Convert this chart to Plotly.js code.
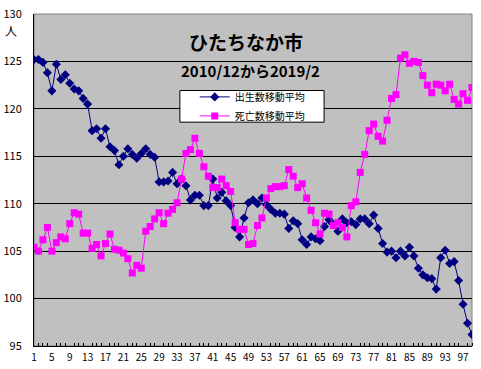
<!DOCTYPE html>
<html><head><meta charset="utf-8">
<script src="https://cdn.plot.ly/plotly-3.0.1.min.js"></script>
<style>html,body{margin:0;padding:0;background:#fff;}#chart{width:481px;height:369px;}</style>
</head><body><div id="chart"></div>
<script>
const months = [1,2,3,4,5,6,7,8,9,10,11,12,13,14,15,16,17,18,19,20,21,22,23,24,25,26,27,28,29,30,31,32,33,34,35,36,37,38,39,40,41,42,43,44,45,46,47,48,49,50,51,52,53,54,55,56,57,58,59,60,61,62,63,64,65,66,67,68,69,70,71,72,73,74,75,76,77,78,79,80,81,82,83,84,85,86,87,88,89,90,91,92,93,94,95,96,97,98,99];
const births = [125.2,125.2,124.9,123.8,121.9,124.7,123.1,123.6,122.7,122.1,121.9,121.1,120.5,
117.7,117.9,116.9,117.9,116.0,115.6,114.1,115.0,115.8,115.2,114.8,115.3,115.8,115.2,114.9,
112.3,112.3,112.4,113.3,112.1,
112.6,111.9,110.4,110.9,110.9,109.8,109.8,112.6,110.6,111.2,110.3,109.8,
107.5,106.5,108.5,110.1,110.4,110.0,110.6,109.9,109.4,109.0,109.0,108.9,
107.4,108.2,107.9,106.2,105.7,106.5,106.3,106.1,107.6,
108.3,107.8,107.1,108.4,108.0,108.1,107.8,108.4,108.4,107.9,108.8,107.4,
105.8,104.9,105.0,104.3,105.0,104.5,105.4,104.5,103.2,102.5,102.2,102.1,
101.0,104.3,105.1,103.7,103.9,101.9,99.4,97.4,96.2];
const deaths = [105.4,105.0,106.2,107.5,105.0,105.9,106.5,106.3,107.9,109.05,108.9,106.9,106.9,105.3,105.7,104.5,105.8,106.8,105.2,105.1,104.8,104.2,102.7,103.5,103.2,107.1,107.6,108.4,109.05,107.9,109.0,109.4,110.1,
112.6,115.3,115.7,116.9,115.3,113.9,112.9,111.7,111.7,112.6,111.9,111.3,
108.0,107.3,107.3,105.7,105.8,107.7,108.5,110.6,111.6,111.8,111.8,111.9,
113.6,112.9,111.7,112.1,110.6,109.3,108.0,106.8,109.0,
108.9,107.7,108.0,107.5,106.5,109.8,110.2,113.3,115.2,117.7,118.4,117.1,
116.6,118.8,121.1,121.5,125.35,125.7,124.8,125.0,124.9,123.5,122.5,121.7,
122.6,122.5,121.9,122.6,121.0,120.5,121.6,120.9,122.25];
const seriesNames = ['出生数移動平均','死亡数移動平均'];
const titleText = 'ひたちなか市';
const subtitleText = '2010/12から2019/2';
const unitText = '人';

const font = "'Noto Sans CJK JP', 'DejaVu Sans', sans-serif";
const traces = [
  {x: months, y: births, name: seriesNames[0], type:'scatter', mode:'lines+markers',
   line:{color:'#000080', width:1}, marker:{symbol:'diamond', size:7, color:'#000080'}},
  {x: months, y: deaths, name: seriesNames[1], type:'scatter', mode:'lines+markers',
   line:{color:'#FF00FF', width:1}, marker:{symbol:'square', size:7, color:'#FF00FF'}}
];
const layout = {
  width:481, height:369,
  margin:{l:34, r:9, t:14, b:23, pad:0},
  paper_bgcolor:'#ffffff', plot_bgcolor:'#C0C0C0',
  showlegend:true,
  legend:{x:0.367, y:0.794, xanchor:'left', yanchor:'top', bgcolor:'rgba(0,0,0,0)',
    borderwidth:0, font:{family:font, size:10, color:'#000'},
    itemwidth:30, tracegroupgap:0},
  xaxis:{range:[1,99], tickmode:'linear', tick0:1, dtick:4, showgrid:false, zeroline:false,
    showline:true, linecolor:'#000', linewidth:1, ticks:'', 
    minor:{dtick:1, tick0:1, ticks:'inside', ticklen:3, tickcolor:'#000', showgrid:false},
    tickfont:{family:font, size:10, color:'#000'}, ticklabelstandoff:2, fixedrange:true},
  yaxis:{range:[95,130], tickmode:'linear', tick0:95, dtick:5, showgrid:true, gridcolor:'#000', gridwidth:1,
    zeroline:false, showline:true, linecolor:'#000', linewidth:1, ticks:'',
    tickfont:{family:font, size:11, color:'#000'}, ticklabelstandoff:9, fixedrange:true},
  shapes:[
    {type:'rect', xref:'paper', yref:'paper', x0:0, x1:1, y0:0, y1:1,
     line:{color:'#808080', width:1}, layer:'below'},
    {type:'rect', xref:'paper', yref:'paper', x0:0.3331, x1:0.6623, y0:0.6742, y1:0.7695,
     line:{color:'#000', width:1}, fillcolor:'#ffffff', layer:'above'}
  ],
  annotations:[
    {text:titleText, xref:'paper', yref:'paper', x:0.485, y:(345.8-42)/331.5, xanchor:'center', yanchor:'middle',
     showarrow:false, font:{family:font, size:19, color:'#000', weight:'bold'}},
    {text:subtitleText, xref:'paper', yref:'paper', x:0.495, y:(345.8-71)/331.5, xanchor:'center', yanchor:'middle',
     showarrow:false, font:{family:font, size:15, color:'#000', weight:'bold'}},
    {text:unitText, xref:'paper', yref:'paper', x:-0.035, y:(345.8-31)/331.5, xanchor:'right', yanchor:'middle',
     showarrow:false, font:{family:font, size:12, color:'#000'}}
  ],
  hovermode:false
};
Plotly.newPlot('chart', traces, layout, {displayModeBar:false, staticPlot:true});
</script></body></html>
